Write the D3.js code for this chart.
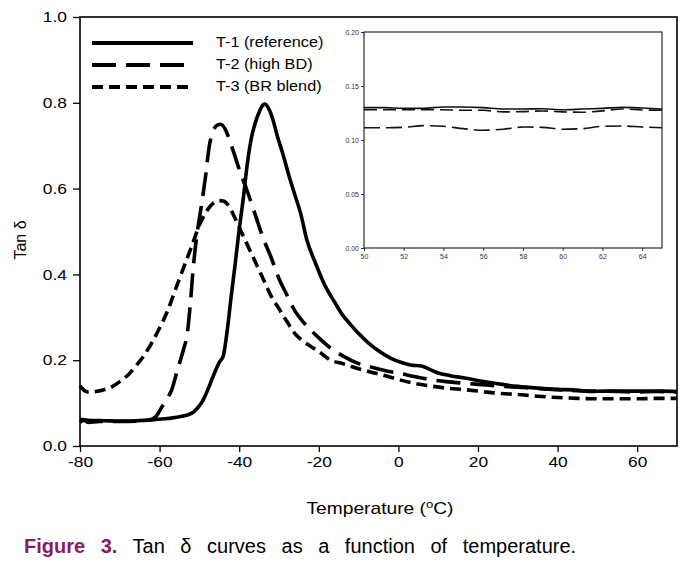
<!DOCTYPE html>
<html><head><meta charset="utf-8">
<script src="https://cdn.jsdelivr.net/npm/d3@7"></script>
<style>
body{margin:0;background:#fff;}
svg{display:block;font-family:"Liberation Sans",Arial,sans-serif;}
</style></head>
<body><svg id="c" width="698" height="565"></svg>
<script>
// ---------- DATA ----------
const seriesNames = ["T-1 (reference)", "T-2 (high BD)", "T-3 (BR blend)"];
const xTicks = [-80, -60, -40, -20, 0, 20, 40, 60];
const yTicks = [0, 0.2, 0.4, 0.6, 0.8, 1.0];
const insetXTicks = [50, 52, 54, 56, 58, 60, 62, 64];
const insetYTicks = [0, 0.05, 0.10, 0.15, 0.20];

const t1Temp = [-80,-78,-74,-70,-66,-62,-58,-55,-52,-50.5,-49,-47.5,-46,-45,-44,-43,-42,-41,-40,-39,-38,-37,-36,-35,-34,-33.5,-32.5,-31.5,-30.5,-29,-27.5,-26,-24.5,-23,-21,-18.5,-16,-14,-12,-10,-7.5,-5,-2,1,3,6,8,10,13,17,21,25,30,35,40,45,48,52,58,62,66,70];
const t1Val  = [0.062,0.060,0.059,0.058,0.059,0.061,0.064,0.068,0.076,0.088,0.108,0.140,0.175,0.195,0.210,0.270,0.350,0.425,0.505,0.575,0.655,0.715,0.752,0.778,0.795,0.797,0.785,0.760,0.725,0.680,0.630,0.585,0.540,0.480,0.430,0.375,0.335,0.305,0.283,0.262,0.240,0.222,0.205,0.194,0.189,0.186,0.178,0.170,0.164,0.158,0.151,0.145,0.139,0.135,0.132,0.130,0.127,0.128,0.128,0.128,0.128,0.127];

const t2Temp = [-80,-79,-78,-75,-70,-66,-63,-61,-59.5,-58,-57,-55.5,-54,-53,-52.3,-51.5,-50.5,-49.5,-48.5,-47.5,-46.5,-45.5,-44.7,-43.5,-42.5,-41.5,-40,-38,-36,-34,-32,-30,-28,-26,-24,-22,-20,-17,-14,-10,-6,-3,0,4,8,12,17,21,25,30,35,40,45,50,55,60,65,70];
const t2Val  = [0.055,0.060,0.055,0.057,0.057,0.058,0.060,0.068,0.090,0.112,0.130,0.178,0.225,0.265,0.330,0.420,0.500,0.560,0.625,0.700,0.735,0.748,0.750,0.738,0.715,0.688,0.645,0.595,0.540,0.485,0.440,0.390,0.352,0.315,0.290,0.270,0.252,0.228,0.210,0.192,0.182,0.175,0.170,0.162,0.155,0.150,0.146,0.143,0.140,0.137,0.134,0.131,0.129,0.128,0.127,0.126,0.127,0.126];

const t3Temp = [-80,-79,-78,-76,-74,-72,-70,-68,-66,-64,-62,-60,-58,-56,-54,-52,-50,-48,-46.5,-45,-44,-42.5,-41,-39.5,-38,-36,-34,-32,-30,-28,-26,-24,-22,-20,-17,-14,-10,-6,-3,0,4,8,12,17,21,25,30,35,40,45,50,55,60,65,70];
const t3Val  = [0.140,0.130,0.126,0.127,0.131,0.138,0.150,0.165,0.186,0.210,0.240,0.275,0.315,0.365,0.415,0.464,0.515,0.550,0.566,0.572,0.571,0.558,0.530,0.500,0.470,0.430,0.390,0.350,0.320,0.290,0.262,0.245,0.232,0.220,0.200,0.192,0.180,0.170,0.163,0.155,0.146,0.140,0.135,0.131,0.127,0.123,0.120,0.116,0.113,0.111,0.110,0.110,0.110,0.111,0.111];

const insetTemp = [50,51,52,53,54,55,56,57,58,59,60,61,62,63,64,65];
const insetT1 = [0.130,0.130,0.1293,0.1293,0.1306,0.1306,0.130,0.1287,0.1287,0.1290,0.1280,0.1287,0.1293,0.1302,0.1296,0.1287];
const insetT2 = [0.128,0.128,0.128,0.128,0.128,0.1275,0.1275,0.126,0.1263,0.1269,0.126,0.1257,0.127,0.1287,0.1278,0.1275];
const insetT3 = [0.1114,0.1114,0.1117,0.1133,0.1127,0.1105,0.1090,0.1100,0.1120,0.1117,0.1100,0.1105,0.1127,0.1130,0.1120,0.1114];

// ---------- STYLE ----------
const dashes = [null, "24,10", "11,6"];
const insetDashes = [null, "13,6", "16,6"];
const captionColor = "#8a1a63";
const SX = 1.2; // horizontal stretch of chart text

const svg = d3.select("#c");
const M = {left: 80, right: 677, top: 17, bottom: 446};

const x = d3.scaleLinear().domain([-80, 70]).range([M.left, M.right]);
const y = d3.scaleLinear().domain([0, 1]).range([M.bottom, M.top]);

function stretch(sel, sx) {
  sel.each(function() {
    const t = d3.select(this);
    const tx = +t.attr("x") || 0, ty = +t.attr("y") || 0;
    t.attr("x", 0).attr("y", 0).attr("transform", `translate(${tx},${ty}) scale(${sx},1)`);
  });
}

// axes
const gx = svg.append("g").attr("transform", `translate(0,${M.bottom})`)
  .call(d3.axisBottom(x).tickValues(xTicks).tickFormat(d => String(d)).tickSize(6).tickSizeOuter(0));
const gy = svg.append("g").attr("transform", `translate(${M.left},0)`)
  .call(d3.axisLeft(y).tickValues(yTicks).tickFormat(d => d.toFixed(1)).tickSize(7).tickSizeOuter(0));
[gx, gy].forEach(g => {
  g.select(".domain").remove();
  g.selectAll(".tick line").attr("stroke", "#000").attr("stroke-width", 1.3);
  g.selectAll(".tick text").attr("fill", "#000").style("font-size", "14.5px");
});
gx.selectAll(".tick text").attr("y", 11);
gy.selectAll(".tick text").attr("x", -13);
stretch(gx.selectAll(".tick text"), SX);
stretch(gy.selectAll(".tick text"), SX);

// frame
svg.append("rect").attr("x", M.left).attr("y", M.top)
  .attr("width", M.right - M.left).attr("height", M.bottom - M.top)
  .attr("fill", "none").attr("stroke", "#000").attr("stroke-width", 1.6);

// curves
const series = [[t1Temp, t1Val], [t2Temp, t2Val], [t3Temp, t3Val]];
const line = d3.line().x(d => x(d[0])).y(d => y(d[1])).curve(d3.curveMonotoneX);
series.forEach((s, i) => {
  const pts = s[0].map((t, j) => [t, s[1][j]]);
  svg.append("path").datum(pts).attr("d", line)
    .attr("fill", "none").attr("stroke", "#000").attr("stroke-width", 3.6)
    .attr("stroke-dasharray", dashes[i]);
});

// legend
const legY = [43, 65, 87];
seriesNames.forEach((n, i) => {
  svg.append("line").attr("x1", 92).attr("x2", 193).attr("y1", legY[i]).attr("y2", legY[i])
    .attr("stroke", "#000").attr("stroke-width", 4.2).attr("stroke-dasharray", dashes[i]);
  svg.append("text").attr("x", 216).attr("y", legY[i] + 4).text(n)
    .style("font-size", "14px").attr("fill", "#000").call(stretch, 1.16);
});

// axis titles
svg.append("text").attr("x", 380).attr("y", 514).attr("text-anchor", "middle")
  .style("font-size", "16px").attr("fill", "#000")
  .call(t => { t.append("tspan").text("Temperature ("); t.append("tspan").text("o").attr("dy", -6).style("font-size", "11px"); t.append("tspan").text("C)").attr("dy", 6); })
  .call(stretch, 1.2);
svg.append("text").attr("transform", "translate(26,240) rotate(-90)").attr("text-anchor", "middle")
  .style("font-size", "16px").attr("fill", "#000").text("Tan δ");

// inset
const I = {left: 364, right: 662, top: 32, bottom: 248};
const ix = d3.scaleLinear().domain([50, 65]).range([I.left, I.right]);
const iy = d3.scaleLinear().domain([0, 0.2]).range([I.bottom, I.top]);
svg.append("rect").attr("x", I.left).attr("y", I.top).attr("width", I.right - I.left)
  .attr("height", I.bottom - I.top).attr("fill", "#fff").attr("stroke", "#000").attr("stroke-width", 1);
const gix = svg.append("g").attr("transform", `translate(0,${I.bottom})`)
  .call(d3.axisBottom(ix).tickValues(insetXTicks).tickFormat(d => String(d)).tickSize(3).tickSizeOuter(0));
const giy = svg.append("g").attr("transform", `translate(${I.left},0)`)
  .call(d3.axisLeft(iy).tickValues(insetYTicks).tickFormat(d => d.toFixed(2)).tickSize(3).tickSizeOuter(0));
[gix, giy].forEach(g => {
  g.select(".domain").remove();
  g.selectAll(".tick line").attr("stroke", "#000").attr("stroke-width", 0.8);
  g.selectAll(".tick text").attr("fill", "#333").style("font-size", "7px");
});
gix.selectAll(".tick text").attr("y", 6);
giy.selectAll(".tick text").attr("x", -5);
const insetSeries = [insetT1, insetT2, insetT3];
const iline = d3.line().x(d => ix(d[0])).y(d => iy(d[1])).curve(d3.curveMonotoneX);
insetSeries.forEach((vals, i) => {
  const pts = insetTemp.map((t, j) => [t, vals[j]]);
  svg.append("path").datum(pts).attr("d", iline)
    .attr("fill", "none").attr("stroke", "#111").attr("stroke-width", 1.6)
    .attr("stroke-dasharray", insetDashes[i]);
});

// caption
const cap = svg.append("text").attr("transform", "translate(24,553)")
  .style("font-size", "20px").attr("word-spacing", "10px");
cap.append("tspan").text("Figure 3.").attr("fill", captionColor).style("font-weight", "bold");
cap.append("tspan").text(" Tan δ curves as a function of temperature.").attr("fill", "#000");
</script></body></html>
